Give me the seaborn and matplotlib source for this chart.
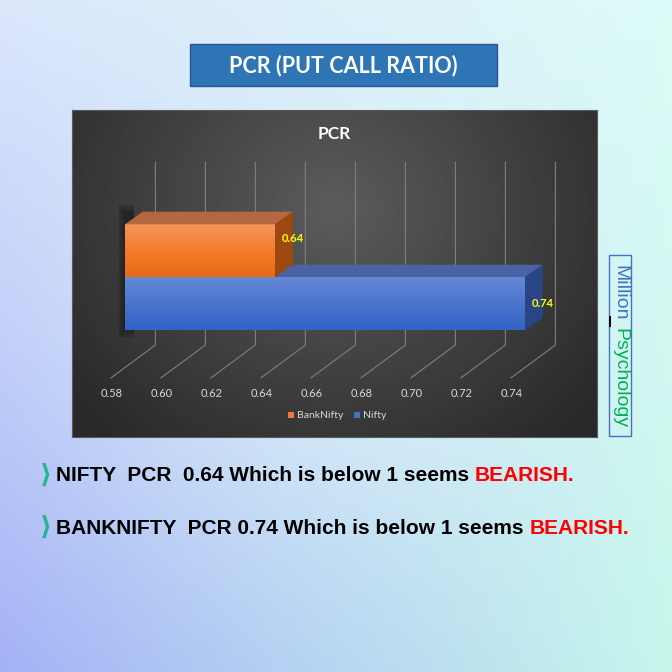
import numpy as np
import pandas as pd
import seaborn as sns
import matplotlib
matplotlib.use('Agg')
import matplotlib.pyplot as plt
from matplotlib.patches import Rectangle, Polygon, Patch
from matplotlib.colors import LinearSegmentedColormap, to_rgb

series = ["BankNifty", "Nifty"]
pcr = [0.64, 0.74]
bar_colors = ["#ED7D31", "#4472C4"]
ticks = [0.58, 0.60, 0.62, 0.64, 0.66, 0.68, 0.70, 0.72, 0.74]
notes = [("NIFTY  PCR  0.64 Which is below 1 seems ", "BEARISH."),
         ("BANKNIFTY  PCR 0.74 Which is below 1 seems ", "BEARISH.")]

# shading for the fake 3d bars
front_grad = [["#f5955c", "#f47c2a", "#e56a16"], ["#6688d6", "#4a75cc", "#3263c5"]]
top_colors = ["#b5673f", "#4a63a3"]
side_colors = ["#9c4810", "#2a4586"]

W = H = 672


def fx(px):
    return px / W


def fy(py):
    return 1 - py / H


sns.set_theme(style="white")
plt.rcParams['font.family'] = ['Lato', 'DejaVu Sans']

fig = plt.figure(figsize=(6.72, 6.72), dpi=100)

# page background, 4 corner gradient
bg = fig.add_axes([0, 0, 1, 1])
bg.set_axis_off()
tl, tr = np.array(to_rgb('#dce7fc')), np.array(to_rgb('#dcfbf7'))
bl, br = np.array(to_rgb('#a4b2f6')), np.array(to_rgb('#c6f7ec'))
v, u = np.mgrid[0:1:200j, 0:1:200j]
u = u[..., None]
v = v[..., None]
img = (1 - v) * (1 - u) * tl + (1 - v) * u * tr + v * (1 - u) * bl + v * u * br
mid = np.array(to_rgb('#e8f5fc'))
w_mid = np.exp(-(((u - 0.5) / 0.35) ** 2 + ((v - 0.45) / 0.35) ** 2))
img = img * (1 - 0.5 * w_mid) + mid * 0.5 * w_mid
bg.imshow(img, extent=[0, 1, 0, 1], aspect='auto', origin='upper')
bg.set_xlim(0, 1)
bg.set_ylim(0, 1)

# dark chart panel
pax = fig.add_axes([fx(72), fy(437), (597 - 72) / W, (437 - 110) / H])
yy, xx = np.mgrid[0:1:200j, 0:1:300j]
r = np.sqrt(((xx - 0.5) / 0.65) ** 2 + ((yy - 0.3) / 0.95) ** 2)
shade = np.clip(0.36 - 0.2 * r, 0.16, 0.36)
pax.imshow(shade, cmap='gray', vmin=0, vmax=1, extent=[0, 1, 0, 1], aspect='auto', origin='upper')
pax.set_xticks([])
pax.set_yticks([])
for s in pax.spines.values():
    s.set_color('#5a5a5a')
    s.set_linewidth(0.8)

# bar axes, x in data units, 2500 px per unit
PX = 2500.0
YPX = 53.0
yc = 250.8
ax = fig.add_axes([fx(125), fy(437), (597 - 125) / W, (437 - 110) / H])
ax.patch.set_alpha(0)
df = pd.DataFrame({"series": series, "pcr": pcr})
sns.barplot(data=df, x="pcr", y="series", hue="series", palette=bar_colors, orient="h",
            width=1.0, saturation=1, legend=False, linewidth=0, ax=ax)

x0 = ticks[0]
ax.set_xlim(x0, x0 + (597 - 125) / PX)
ax.set_ylim((437 - yc) / YPX, (110 - yc) / YPX)
ax.set_axis_off()

dx = 17.7 / PX
dy = -12.6 / YPX
n = len(series)
bars = sorted(ax.patches, key=lambda p: p.get_y())
for i, p in enumerate(bars):
    val = pcr[i]
    y0, y1 = p.get_y(), p.get_y() + p.get_height()
    p.set_zorder(1)
    p.set_edgecolor('none')
    cmap = LinearSegmentedColormap.from_list("g%d" % i, front_grad[i])
    im = ax.imshow(np.linspace(0, 1, 64)[:, None], cmap=cmap, extent=[x0, val, y1, y0],
                   aspect='auto', origin='upper', zorder=1.05)
    im.set_clip_path(p)
    z = 0.9 + 0.3 * (n - 1 - i)
    ax.add_patch(Polygon([(x0, y0), (val, y0), (val + dx, y0 + dy), (x0 + dx, y0 + dy)],
                         closed=True, facecolor=top_colors[i], edgecolor='none', zorder=z))
    ax.add_patch(Polygon([(val, y0), (val + dx, y0 + dy), (val + dx, y1 + dy), (val, y1)],
                         closed=True, facecolor=side_colors[i], edgecolor='none', zorder=z))
    ax.text(val + 7 / PX, i + (dy if i == 0 else 0), f"{val:.2f}", color='#ffff00',
            fontsize=8, fontweight='bold', ha='left', va='center', zorder=3)

# soft shadow left of the bars
top_y = bars[0].get_y() + dy
bot_y = bars[-1].get_y() + bars[-1].get_height()
for k in range(6):
    ax.add_patch(Rectangle((x0 - (k + 1) * 0.0005, top_y - k * 0.03), (k + 1) * 0.0005 + dx * 0.5,
                           bot_y - top_y + k * 0.06, facecolor='black', alpha=0.07,
                           edgecolor='none', zorder=0.7, clip_on=False))

# perspective gridlines and tick labels
back = 30.4 / PX
front = -14.2 / PX
y_top = (162 - yc) / YPX
y_wall = (345 - yc) / YPX
y_floor = (378 - yc) / YPX
y_lab = (393 - yc) / YPX
for t in ticks:
    ax.plot([t + back, t + back, t + front], [y_top, y_wall, y_floor], color='#7f7f7f',
            lw=0.8, zorder=0.5, clip_on=False)
    ax.text(t + front + 1 / PX, y_lab, f"{t:.2f}", color='#d9d9d9', fontsize=8,
            ha='center', va='center', clip_on=False)

fig.text(fx(334), fy(134), "PCR", color='white', fontsize=12.5, fontweight='bold',
         ha='center', va='center')

handles = [Patch(facecolor=c, edgecolor='none', label=s) for s, c in zip(series, bar_colors)]
fig.legend(handles=handles, loc='center', bbox_to_anchor=(fx(337), fy(416)), ncol=2,
           frameon=False, fontsize=7.5, labelcolor='#d9d9d9', handlelength=0.6,
           handleheight=0.6, handletextpad=0.3, columnspacing=1.0)

# big title box
fig.add_artist(Rectangle((fx(190), fy(86)), (497 - 190) / W, (86 - 44) / H,
                         transform=fig.transFigure, facecolor='#2e75b6',
                         edgecolor='#2f5597', lw=1))
fig.text(fx(343), fy(66), "PCR (PUT CALL RATIO)", color='white', fontsize=15.5,
         fontweight='bold', ha='center', va='center')

# notes below the chart
fig.canvas.draw()
renderer = fig.canvas.get_renderer()
for (black, red), py in zip(notes, [475.5, 528]):
    fig.text(fx(40), fy(py), "\u27e9", color='#26b592', fontsize=19, fontweight='bold',
             family=['DejaVu Sans'], ha='left', va='center')
    t1 = fig.text(fx(56), fy(py), black, color='black', fontsize=15, fontweight='bold',
                  family=['Liberation Sans'], ha='left', va='center')
    bb = t1.get_window_extent(renderer=renderer)
    fig.text(bb.x1 / fig.bbox.width, fy(py), red, color='#ff0000', fontsize=15,
             fontweight='bold', family=['Liberation Sans'], ha='left', va='center')

# watermark on the right
fig.add_artist(Rectangle((fx(609), fy(435.7)), (631 - 609) / W, (435.7 - 255) / H,
                         transform=fig.transFigure, facecolor='none',
                         edgecolor='#4472c4', lw=1))
fig.add_artist(Rectangle((fx(609), fy(327)), 2 / W, 11 / H, transform=fig.transFigure,
                         facecolor='black', edgecolor='none'))
fig.text(fx(620), fy(265), "Million", rotation=-90, color='#4472c4', fontsize=14,
         family=['Liberation Sans'], ha='center', va='top')
fig.text(fx(620), fy(328), "Psychology", rotation=-90, color='#00b050', fontsize=14,
         family=['Liberation Sans'], ha='center', va='top')

fig.savefig("out.png", dpi=100)
plt.close(fig)
